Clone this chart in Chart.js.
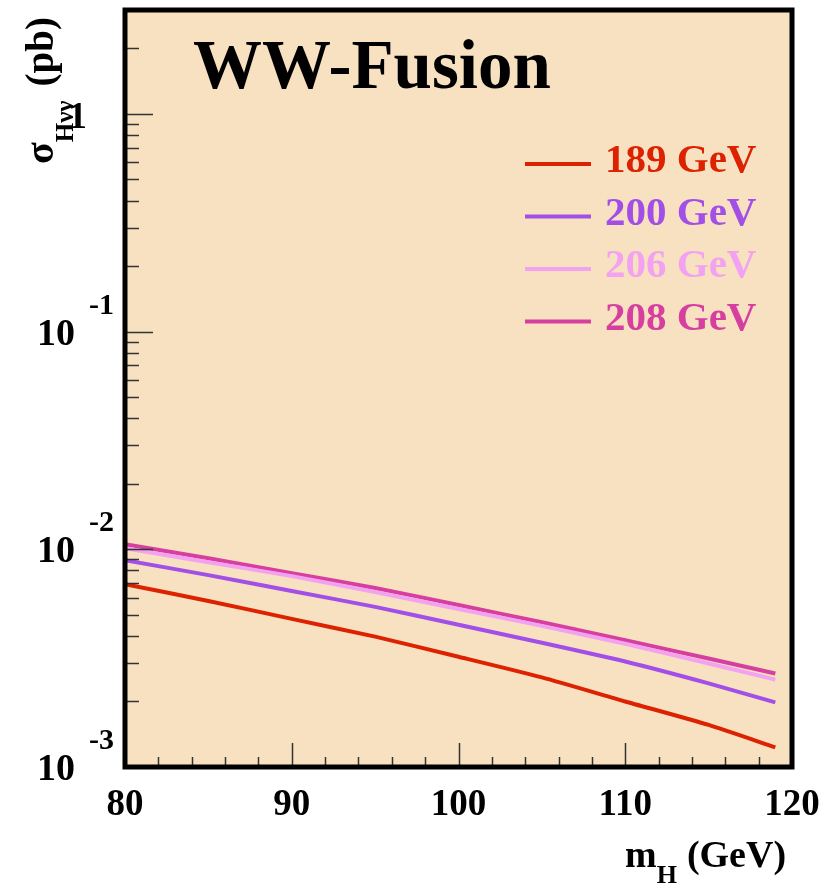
<!DOCTYPE html>
<html>
<head>
<meta charset="utf-8">
<script src="https://cdn.jsdelivr.net/npm/chart.js@4.4.0/dist/chart.umd.min.js"></script>
<style>
  html, body { margin: 0; padding: 0; background: #fff; }
</style>
</head>
<body>
<canvas id="chart" width="825" height="887"></canvas>
<script>
// Higgs mass points (GeV)
const massPoints = [80, 85, 90, 95, 100, 105, 110, 115, 119];

// WW-fusion cross section (pb) for each sqrt(s)
const xsec189 = [0.00692, 0.00579, 0.00479, 0.00397, 0.00321, 0.00258, 0.00200, 0.00156, 0.00123];
const xsec200 = [0.00891, 0.00761, 0.00643, 0.00544, 0.00450, 0.00372, 0.00305, 0.00242, 0.00198];
const xsec206 = [0.01011, 0.00872, 0.00753, 0.00636, 0.00532, 0.00445, 0.00368, 0.00299, 0.00252];
const xsec208 = [0.01054, 0.00910, 0.00777, 0.00664, 0.00555, 0.00462, 0.00382, 0.00315, 0.00269];

const seriesLabels = ['189 GeV', '200 GeV', '206 GeV', '208 GeV'];
const seriesColors = ['#dc2200', '#a24fe8', '#f2a2f0', '#d63f9f'];

const xTickLabels = [80, 90, 100, 110, 120];
const yDecades = [-3, -2, -1, 0];

const serif = '"Liberation Serif", "Times New Roman", serif';

function seg(ctx, x1, y1, x2, y2) {
  ctx.beginPath();
  ctx.moveTo(x1, y1);
  ctx.lineTo(x2, y2);
  ctx.stroke();
}

const rootStyle = {
  id: 'rootStyle',
  beforeDatasetsDraw(chart) {
    const { ctx, chartArea: a } = chart;
    ctx.save();
    ctx.fillStyle = '#f8e1c1';
    ctx.fillRect(a.left, a.top, a.right - a.left, a.bottom - a.top);
    ctx.restore();
  },
  afterDatasetsDraw(chart) {
    const { ctx, chartArea: a, scales: { x, y } } = chart;
    ctx.save();

    // x ticks, minor every 2 GeV
    ctx.strokeStyle = '#333';
    ctx.lineWidth = 1.5;
    for (let m = x.min + 2; m < x.max; m += 2) {
      const px = Math.round(x.getPixelForValue(m)) + 0.5;
      const len = m % 10 === 0 ? 24 : 10;
      seg(ctx, px, a.bottom, px, a.bottom - len);
    }

    // y ticks, log minors
    for (const d of yDecades) {
      for (let k = 1; k <= 9; k++) {
        const v = k * Math.pow(10, d);
        if (v >= y.max) break;
        if (v <= y.min && k > 1) continue;
        const py = Math.round(y.getPixelForValue(v)) + 0.5;
        seg(ctx, a.left, py, a.left + (k === 1 ? 28 : 14), py);
      }
    }

    // frame
    ctx.strokeStyle = '#000';
    ctx.lineWidth = 5;
    ctx.strokeRect(a.left, a.top, a.right - a.left, a.bottom - a.top);

    // x tick labels
    ctx.fillStyle = '#000';
    ctx.font = 'bold 37px ' + serif;
    ctx.textAlign = 'center';
    ctx.textBaseline = 'alphabetic';
    xTickLabels.forEach(v => {
      ctx.fillText(String(v), x.getPixelForValue(v), 815);
    });

    // y tick labels 10^k
    yDecades.forEach(d => {
      const py = y.getPixelForValue(Math.pow(10, d));
      ctx.font = 'bold 38px ' + serif;
      ctx.textAlign = 'right';
      if (d === 0) {
        ctx.fillText('1', 87, py + 14);
        return;
      }
      ctx.fillText('10', 75, py + 13);
      ctx.font = 'bold 30px ' + serif;
      ctx.textAlign = 'left';
      ctx.fillText(String(d), 89, py - 18);
    });

    // x title m_H (GeV)
    ctx.textAlign = 'left';
    ctx.font = 'bold 38px ' + serif;
    ctx.fillText('m', 625, 867);
    const w = ctx.measureText('m').width;
    ctx.font = 'bold 26px ' + serif;
    ctx.fillText('H', 625 + w, 883);
    const wH = ctx.measureText('H').width;
    ctx.font = 'bold 38px ' + serif;
    ctx.fillText('(GeV)', 625 + w + wH + 10, 867);

    // y title sigma_Hvv (pb), rotated
    ctx.save();
    ctx.translate(53, 164);
    ctx.rotate(-Math.PI / 2);
    ctx.font = 'bold 40px ' + serif;
    ctx.fillText('σ', 0, 0);
    let off = ctx.measureText('σ').width;
    ctx.font = 'bold 25px ' + serif;
    ctx.fillText('Hνν', off, 20);
    off += ctx.measureText('Hνν').width + 14;
    ctx.font = 'bold 39px ' + serif;
    ctx.fillText('(pb)', off, 0);
    ctx.restore();

    // title
    ctx.font = 'bold 69px ' + serif;
    ctx.fillText('WW-Fusion', 193, 88);

    // legend
    ctx.font = 'bold 41px ' + serif;
    chart.data.datasets.forEach((ds, i) => {
      const base = 172 + i * 52.5;
      ctx.strokeStyle = ds.borderColor;
      ctx.lineWidth = 4;
      seg(ctx, 525, base - 8, 591, base - 8);
      ctx.fillStyle = ds.borderColor;
      ctx.fillText(ds.label, 605, base);
    });

    ctx.restore();
  }
};

const seriesData = [xsec189, xsec200, xsec206, xsec208];

new Chart(document.getElementById('chart').getContext('2d'), {
  type: 'line',
  data: {
    datasets: seriesData.map((vals, i) => ({
      label: seriesLabels[i],
      data: massPoints.map((m, j) => ({ x: m, y: vals[j] })),
      borderColor: seriesColors[i],
      borderWidth: 4,
      pointRadius: 0,
      tension: 0.2,
      fill: false
    }))
  },
  options: {
    responsive: false,
    animation: false,
    layout: { padding: { left: 125, right: 33, top: 10, bottom: 120 } },
    scales: {
      x: { type: 'linear', min: 80, max: 120, display: false },
      y: { type: 'logarithmic', min: 0.001, max: 3, display: false }
    },
    plugins: {
      legend: { display: false },
      tooltip: { enabled: false }
    }
  },
  plugins: [rootStyle]
});
</script>
</body>
</html>
